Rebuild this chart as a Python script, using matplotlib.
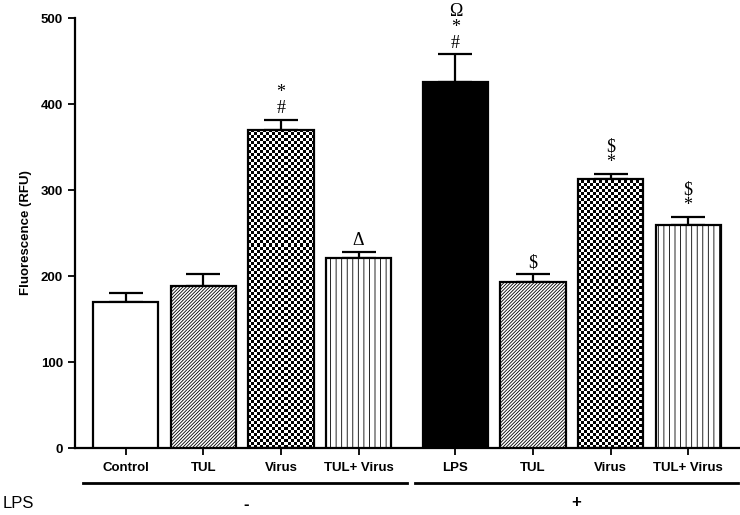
import matplotlib.pyplot as plt
import numpy as np
from matplotlib.lines import Line2D

# datos
etiquetas = ['Control', 'TUL', 'Virus', 'TUL+ Virus', 'LPS', 'TUL', 'Virus', 'TUL+ Virus']
medias = [170, 188, 370, 221, 426, 193, 313, 259]
errores = [10, 14, 12, 7, 32, 9, 6, 10]
signos = [[], [], ['#', '*'], ['\u0394'], ['#', '*', '\u03a9'], ['$'], ['*', '$'], ['*', '$']]
grupos = ['-', '+']
relleno = ['blanco', 'diag', 'cuadros', 'vert', 'negro', 'diag', 'cuadros', 'vert']

pos = np.array([0, 1, 2, 3, 4.25, 5.25, 6.25, 7.25])
ancho = 0.84

plt.rcParams['hatch.linewidth'] = 0.6
fig = plt.figure(figsize=(7.4, 5.15), dpi=100)
ax = fig.add_axes([0.101, 0.13, 0.897, 0.835])
ax.set_xlim(-0.66, 7.9)
ax.set_ylim(0, 500)

barras = []
for i in range(len(medias)):
    r = relleno[i]
    fc = {'negro': 'black', 'cuadros': 'none'}.get(r, 'white')
    h = {'diag': '//////////', 'vert': '|||'}.get(r, None)
    b = ax.bar(pos[i], medias[i], ancho, color=fc, edgecolor='black', linewidth=1.6,
               hatch=h, zorder=3)[0]
    barras.append(b)
    ax.errorbar(pos[i], medias[i], yerr=[[0], [errores[i]]], color='black', lw=1.6,
                capsize=12, capthick=1.6, zorder=2)

# patron de cuadros (no existe como hatch): celdas de 3 px exactos
celda = 3
px_x = ax.transData.transform((1, 0))[0] - ax.transData.transform((0, 0))[0]
px_y = ax.transData.transform((0, 1))[1] - ax.transData.transform((0, 0))[1]
for i, b in enumerate(barras):
    if relleno[i] != 'cuadros':
        continue
    x0, w, h = b.get_x(), b.get_width(), b.get_height()
    nx = int(np.ceil(w * px_x / celda))
    ny = int(np.ceil(h * px_y / celda))
    tablero = np.indices((ny, nx)).sum(0) % 2
    im = ax.imshow(tablero, extent=[x0, x0 + nx * celda / px_x, 0, ny * celda / px_y],
                   cmap='gray', interpolation='nearest', aspect='auto', zorder=2.5)
    im.set_clip_path(b)
ax.set_xlim(-0.66, 7.9)
ax.set_ylim(0, 500)

# simbolos de significancia
for i in range(len(medias)):
    for k, s in enumerate(signos[i]):
        ax.annotate(s, (pos[i], medias[i] + errores[i]), xytext=(0, 11 + 16 * k),
                    textcoords='offset pixels', ha='center', va='center',
                    fontsize=13, family='Liberation Serif')

for s in ['top', 'right']:
    ax.spines[s].set_visible(False)
for s in ['left', 'bottom']:
    ax.spines[s].set_linewidth(1.6)

ax.set_xticks(pos)
ax.set_xticklabels(etiquetas, fontsize=9.5, fontweight='bold', family='Liberation Sans')
ax.set_yticks(range(0, 501, 100))
ax.tick_params(axis='y', labelsize=9.5, width=1.3, length=5)
ax.tick_params(axis='x', width=1.3, length=5, pad=5)
for t in ax.get_yticklabels():
    t.set_fontweight('bold')
    t.set_family('Liberation Sans')
ax.set_ylabel('Fluorescence (RFU)', fontsize=9.5, fontweight='bold', family='Liberation Sans',
              labelpad=6)

# lineas de grupo LPS
fig.add_artist(Line2D([83 / 740, 407 / 740], [1 - 483 / 515] * 2, color='black', lw=2))
fig.add_artist(Line2D([415 / 740, 738 / 740], [1 - 483 / 515] * 2, color='black', lw=2))
fig.text(246 / 740, 1 - 505 / 515, grupos[0], ha='center', va='center', fontsize=12,
         fontweight='bold', family='Liberation Sans')
fig.text(576 / 740, 1 - 502 / 515, grupos[1], ha='center', va='center', fontsize=12,
         fontweight='bold', family='Liberation Sans')
fig.text(3 / 740, 1 - 504 / 515, 'LPS', ha='left', va='center', fontsize=12,
         family='Liberation Sans')

fig.savefig('out.png', dpi=100)
